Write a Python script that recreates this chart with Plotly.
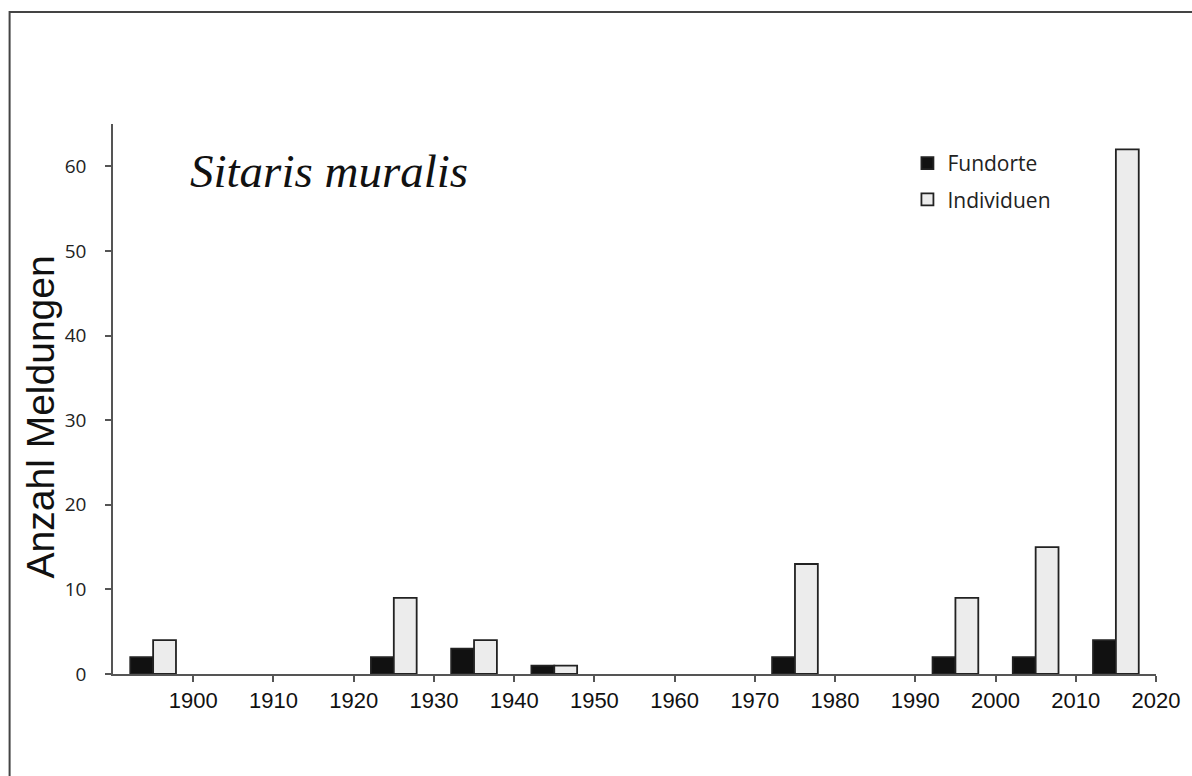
import plotly.graph_objects as go

decades = [1890, 1900, 1910, 1920, 1930, 1940, 1950, 1960, 1970, 1980, 1990, 2000, 2010]
fundorte = [2, 0, 0, 2, 3, 1, 0, 0, 2, 0, 2, 2, 4]
individuen = [4, 0, 0, 9, 4, 1, 0, 0, 13, 0, 9, 15, 62]
tick_years = [1900, 1910, 1920, 1930, 1940, 1950, 1960, 1970, 1980, 1990, 2000, 2010, 2020]
y_ticks = [0, 10, 20, 30, 40, 50, 60]

centers = [d + 5 for d in decades]

fig = go.Figure()
fig.add_trace(go.Bar(x=centers, y=fundorte, name="Fundorte", legendgroup="a",
                     marker=dict(color="#111111",
                                 line=dict(color="#222222", width=[1.8 if v else 0 for v in fundorte]))))
fig.add_trace(go.Bar(x=centers, y=individuen, name="Individuen", legendgroup="b",
                     marker=dict(color="#ececec",
                                 line=dict(color="#222222", width=[1.8 if v else 0 for v in individuen]))))

L, R, T, B = 113, 30, 124, 102
W, H = 1192, 776
pw, ph = W - L - R, H - T - B
Y0 = H - B  # pixel row of y=0

fig.update_layout(
    width=W, height=H,
    margin=dict(l=L, r=R, t=T, b=B),
    paper_bgcolor="white", plot_bgcolor="white",
    barmode="group", bargap=0.43, bargroupgap=0,
    showlegend=True,
    legend=dict(x=(912 - L) / pw, y=(Y0 - 143) / ph, xanchor="left", yanchor="top",
                font=dict(family="Open Sans", size=21, color="#222"),
                bgcolor="rgba(0,0,0,0)", itemwidth=30, traceorder="grouped", tracegroupgap=6),
    font=dict(family="Liberation Sans", color="#111"),
)
fig.update_xaxes(range=[1890, 2020], tickvals=tick_years, ticktext=[str(t) for t in tick_years],
                 showgrid=False, zeroline=False, showline=True, linecolor="#555", linewidth=1.5,
                 ticks="outside", ticklen=6, tickcolor="#555", tickwidth=1.5,
                 tickfont=dict(family="Liberation Sans", size=22, color="#111"))
fig.update_yaxes(range=[0, 65], tickvals=y_ticks, showgrid=False, zeroline=False,
                 showline=True, linecolor="#555", linewidth=1.5,
                 ticks="outside", ticklen=6, tickcolor="#555", tickwidth=1.5, ticklabelstandoff=15,
                 tickfont=dict(family="Open Sans", size=19, color="#222"))

fig.add_annotation(x=(40 - L) / pw, y=(Y0 - 417) / ph, xref="paper", yref="paper",
                   xanchor="center", yanchor="middle", textangle=-90,
                   text="Anzahl Meldungen", showarrow=False,
                   font=dict(family="Liberation Sans", size=39, color="#111"))

fig.add_annotation(x=(330 - L) / pw, y=(Y0 - 171) / ph, xref="paper", yref="paper",
                   xanchor="center", yanchor="middle",
                   text="<i>Sitaris muralis</i>", showarrow=False,
                   font=dict(family="Liberation Serif", size=47, color="#111"))

fig.add_shape(type="rect", xref="paper", yref="paper",
              x0=(9 - L) / pw, x1=(1200 - L) / pw, y0=(Y0 - 790) / ph, y1=(Y0 - 12) / ph,
              line=dict(color="#444", width=2), fillcolor="rgba(0,0,0,0)", layer="below")

fig.write_html("out.html", config={"displayModeBar": False},
               post_script="document.body.style.margin='0';document.body.style.overflow='hidden';")
